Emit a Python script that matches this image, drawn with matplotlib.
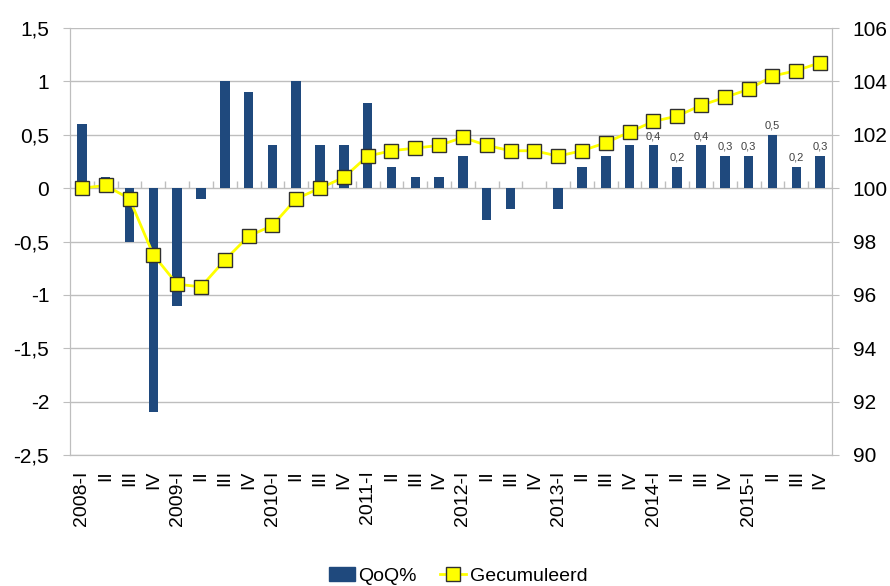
import matplotlib.pyplot as plt
import numpy as np
from matplotlib.ticker import FuncFormatter

plt.rcParams['font.family'] = ['Liberation Sans', 'DejaVu Sans']

years = ['2008', '2009', '2010', '2011', '2012', '2013', '2014', '2015']
quarters = ['I', 'II', 'III', 'IV']
labels = []
for y in years:
    for q in quarters:
        labels.append(f'{y}-{q}' if q == 'I' else q)

qoq = [0.6, 0.1, -0.5, -2.1, -1.1, -0.1, 1.0, 0.9,
       0.4, 1.0, 0.4, 0.4, 0.8, 0.2, 0.1, 0.1,
       0.3, -0.3, -0.2, 0.0, -0.2, 0.2, 0.3, 0.4,
       0.4, 0.2, 0.4, 0.3, 0.3, 0.5, 0.2, 0.3]
cumul = [100.0, 100.1, 99.6, 97.5, 96.4, 96.3, 97.3, 98.2,
         98.6, 99.6, 100.0, 100.4, 101.2, 101.4, 101.5, 101.6,
         101.9, 101.6, 101.4, 101.4, 101.2, 101.4, 101.7, 102.1,
         102.5, 102.7, 103.1, 103.4, 103.7, 104.2, 104.4, 104.7]
first_label = 24  # data labels shown from 2014-I onwards

bar_color = '#1F497D'
grid_color = '#BEBEBE'
x = np.arange(len(qoq))

fig = plt.figure(figsize=(8.9, 5.86), dpi=100)
ax = fig.add_axes([70 / 890, 1 - 455 / 586, 762 / 890, 427 / 586])
ax2 = ax.twinx()

ax.bar(x, qoq, width=0.4, color=bar_color, zorder=2)
for i in range(first_label, len(qoq)):
    ax.text(x[i], qoq[i] + 0.04, f'{qoq[i]:.1f}'.replace('.', ','),
            ha='center', va='bottom', fontsize=8, color='#404040', zorder=3)

# small category tick marks on the zero line
ax.vlines(np.arange(len(qoq) + 1) - 0.5, 0, 0.07, color=grid_color, lw=1, zorder=1)

ax.set_xlim(-0.5, len(qoq) - 0.5)
ax.set_ylim(-2.5, 1.5)
ax.set_yticks(np.arange(-2.5, 1.51, 0.5))
ax.yaxis.set_major_formatter(FuncFormatter(lambda v, p: f'{v:g}'.replace('.', ',')))
ax.yaxis.grid(True, color=grid_color, lw=1)
ax.set_axisbelow(True)
ax.set_xticks(x, labels, rotation=90, fontsize=14)
ax.tick_params(axis='x', length=0, pad=11)
ax.tick_params(axis='y', labelsize=15, color=grid_color, length=5, pad=10)

ax2.plot(x, cumul, '-s', color='#FFFF00', lw=2, markersize=10,
         markerfacecolor='#FFFF00', markeredgecolor='#303030', markeredgewidth=1, zorder=4)
ax2.set_ylim(90, 106)
ax2.set_yticks(np.arange(90, 107, 2))
ax2.tick_params(axis='y', labelsize=15, color=grid_color, length=5, pad=10)

for a in (ax, ax2):
    for s in a.spines.values():
        s.set_color(grid_color)
    a.spines['top'].set_visible(False)

h1 = plt.Rectangle((0, 0), 1, 1, color=bar_color)
h2 = plt.Line2D([], [], color='#FFFF00', lw=2, marker='s', markersize=10,
                markerfacecolor='#FFFF00', markeredgecolor='#303030')
fig.legend([h1, h2], ['QoQ%', 'Gecumuleerd'], loc='center', bbox_to_anchor=(0.515, 0.017),
           ncol=2, frameon=False, fontsize=14, handlelength=1.3, handletextpad=0.2,
           columnspacing=1.2)

fig.savefig('out.png', dpi=100)
